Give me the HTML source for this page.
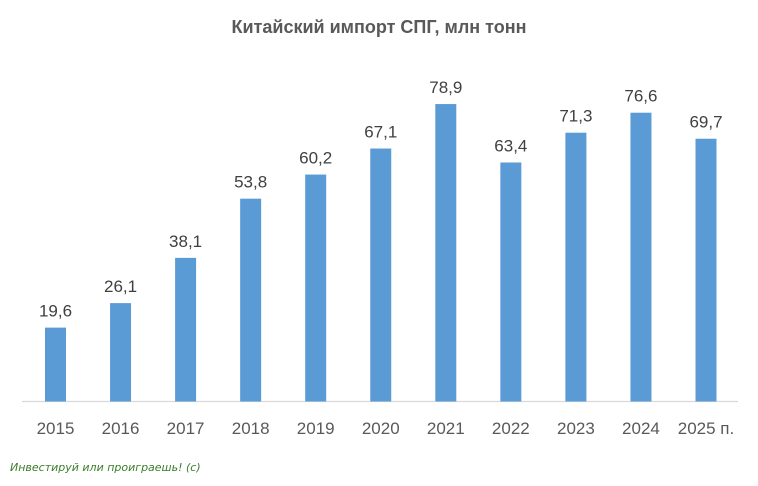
<!DOCTYPE html>
<html><head><meta charset="utf-8"><style>
body{margin:0;background:#fff;}
svg{display:block;font-family:"Liberation Sans","Noto Sans CJK SC",sans-serif;}
</style></head><body>
<svg id="chart" width="758" height="486">
<text x="379" y="33" text-anchor="middle" font-size="18" font-weight="bold" fill="#595959">Китайский импорт СПГ, млн тонн</text>
<line x1="22" y1="401.5" x2="738" y2="401.5" stroke="#d9d9d9" stroke-width="1.2"/>
<g id="bars"></g>
<text x="10" y="471" font-size="11" font-style="italic" fill="#3a7d2a" font-family="'DejaVu Sans',sans-serif">Инвестируй или проиграешь! (с)</text>
</svg>
<script>
const categories=["2015","2016","2017","2018","2019","2020","2021","2022","2023","2024","2025 п."];
const values=[19.6,26.1,38.1,53.8,60.2,67.1,78.9,63.4,71.3,76.6,69.7];
const valueLabels=["19,6","26,1","38,1","53,8","60,2","67,1","78,9","63,4","71,3","76,6","69,7"];
const NS="http://www.w3.org/2000/svg";
const base=401.5, scale=3.77;
function xC(i){return 55.5+i*65.05;}
function yV(v){return base-v*scale;}
const g=document.getElementById('bars');
values.forEach((v,i)=>{
  const r=document.createElementNS(NS,'rect');
  r.setAttribute('x',xC(i)-10.5);r.setAttribute('y',yV(v));
  r.setAttribute('width',21);r.setAttribute('height',base-yV(v));
  r.setAttribute('fill','#5b9bd5');
  
  
  g.appendChild(r);
  const t=document.createElementNS(NS,'text');
  t.setAttribute('x',xC(i));t.setAttribute('y',yV(v)-11);
  t.setAttribute('text-anchor','middle');t.setAttribute('font-size','17');t.setAttribute('fill','#404040');
  t.textContent=valueLabels[i];
  
  
  g.appendChild(t);
  const c=document.createElementNS(NS,'text');
  c.setAttribute('x',xC(i));c.setAttribute('y',434);
  c.setAttribute('text-anchor','middle');c.setAttribute('font-size','17');c.setAttribute('fill','#595959');
  c.textContent=categories[i];
  
  
  g.appendChild(c);
});
</script>
</body></html>
